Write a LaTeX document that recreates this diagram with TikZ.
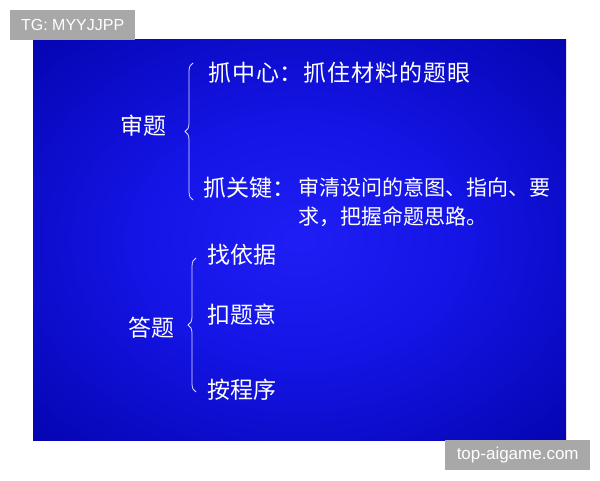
\documentclass[tikz,border=0pt]{standalone}
\usepackage{fontspec}
\newfontfamily\cjk{Noto Sans CJK SC}
\newfontfamily\cjkwide[LetterSpace=4]{Noto Sans CJK SC}
\setsansfont{Liberation Sans}
\usetikzlibrary{decorations.pathreplacing}
\pgfdeclareradialshading{bluebg}{\pgfpoint{0bp}{0bp}}{rgb(0bp)=(0.12,0.12,0.96); rgb(15bp)=(0.08,0.08,0.9); rgb(35bp)=(0.02,0.02,0.7); rgb(50bp)=(0,0,0.5)}
\definecolor{tagray}{RGB}{168,168,168}
\begin{document}
\begin{tikzpicture}[x=1pt,y=1pt,
        item/.style={text=white,inner sep=0pt,font=\cjk\fontsize{23}{23}\selectfont},
        bracket/.style={draw=white!88!blue,line width=0.8pt,decorate,decoration={brace,amplitude=8pt}},
        tagbox/.style={fill=tagray,text=white,inner sep=0pt,font=\sffamily\fontsize{16}{16}\selectfont}]
        \useasboundingbox (0,0) rectangle (600,480);
        \fill[white] (0,0) rectangle (600,480);
        \shade[shading=bluebg] (33,40) rectangle (566,440);
        \node[tagbox,minimum width=125pt,minimum height=30pt,anchor=north west] (tg) at (10,470) {TG: MYYJJPP};
        \node[tagbox,minimum width=145pt,minimum height=30pt,anchor=south west,font=\sffamily\fontsize{17}{17}\selectfont] (site) at (445,10) {top-aigame.com};
        \node[item] (shenti) at (143,354) {审题};
        \node[item,anchor=west,font=\cjkwide\fontsize{23}{23}\selectfont] (zhongxin) at (208,407) {抓中心：抓住材料的题眼};
        \node[item,anchor=west] (guanjian) at (203,292) {抓关键：};
        \node[item,anchor=west,align=left,font=\cjk\fontsize{21}{29}\selectfont] (yaoqiu) at (298,277.5) {审清设问的意图、指向、要\\求，把握命题思路。};
        \node[item] (dati) at (151,152) {答题};
        \node[item,anchor=west] (yiju) at (207,225) {找依据};
        \node[item,anchor=west] (tiyi) at (207,165) {扣题意};
        \node[item,anchor=west] (chengxu) at (207,90) {按程序};
        \coordinate (shentop) at (193,417);
        \coordinate (shenbot) at (193,280);
        \coordinate (datop) at (196,222);
        \coordinate (dabot) at (196,88);
        \draw[bracket] (shenbot) -- (shentop);
        \draw[bracket] (dabot) -- (datop);
\end{tikzpicture}
\end{document}
